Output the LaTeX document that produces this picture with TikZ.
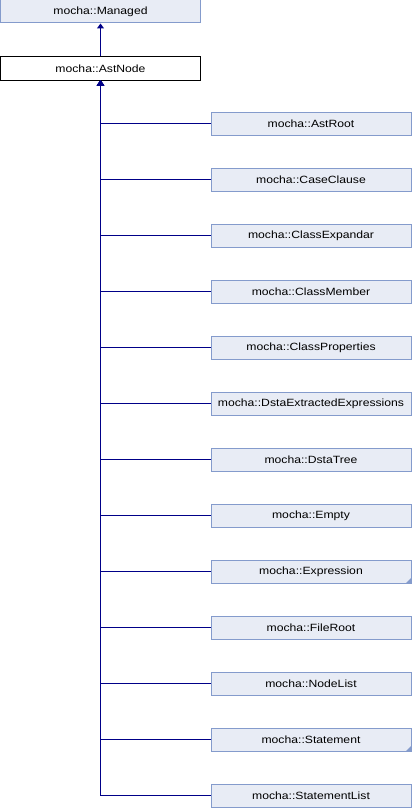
\documentclass[tikz,border=0pt]{standalone}
\usepackage{fontspec}
\setmainfont[FakeStretch=1.16]{Liberation Sans}
\usetikzlibrary{arrows.meta}
\definecolor{boxfill}{RGB}{232,236,245}
\definecolor{boxline}{RGB}{132,155,204}
\definecolor{linkcol}{RGB}{0,0,136}
\tikzset{
  cls/.style={draw=boxline, fill=boxfill, line width=1pt, minimum width=200pt, minimum height=23pt, inner sep=0pt,
    font=\fontsize{10.5}{12}\selectfont},
  self/.style={cls, draw=black, fill=white},
  inh/.style={draw=linkcol, line width=1pt, -{Triangle[length=5pt,width=7pt]}},
  more/.style={fill=boxline}
}
\begin{document}
\begin{tikzpicture}[x=1pt,y=-1pt]
\useasboundingbox (0,0) rectangle (412,808);
\node[cls] (managed) at (100.5,11.5) {mocha::Managed};
\node[self] (astnode) at (100.5,68.5) {mocha::AstNode};
\draw[inh] (astnode.north) -- (managed.south);
\foreach \name/\txt [count=\i from 0] in {
  astroot/AstRoot, caseclause/CaseClause, classexpandar/ClassExpandar,
  classmember/ClassMember, classproperties/ClassProperties,
  dsta/DstaExtractedExpressions, dstatree/DstaTree, empty/Empty,
  expression/Expression, fileroot/FileRoot, nodelist/NodeList,
  statement/Statement, statementlist/StatementList} {
  \node[cls] (\name) at (311,{123.5+56*\i}) {mocha::\txt};
  \draw[inh] (\name.west) -| (astnode.south);
}
\fill[more] (expression.south east) -- ++(-6,0) -- ++(6,-6) -- cycle;
\fill[more] (statement.south east) -- ++(-6,0) -- ++(6,-6) -- cycle;
\end{tikzpicture}
\end{document}
